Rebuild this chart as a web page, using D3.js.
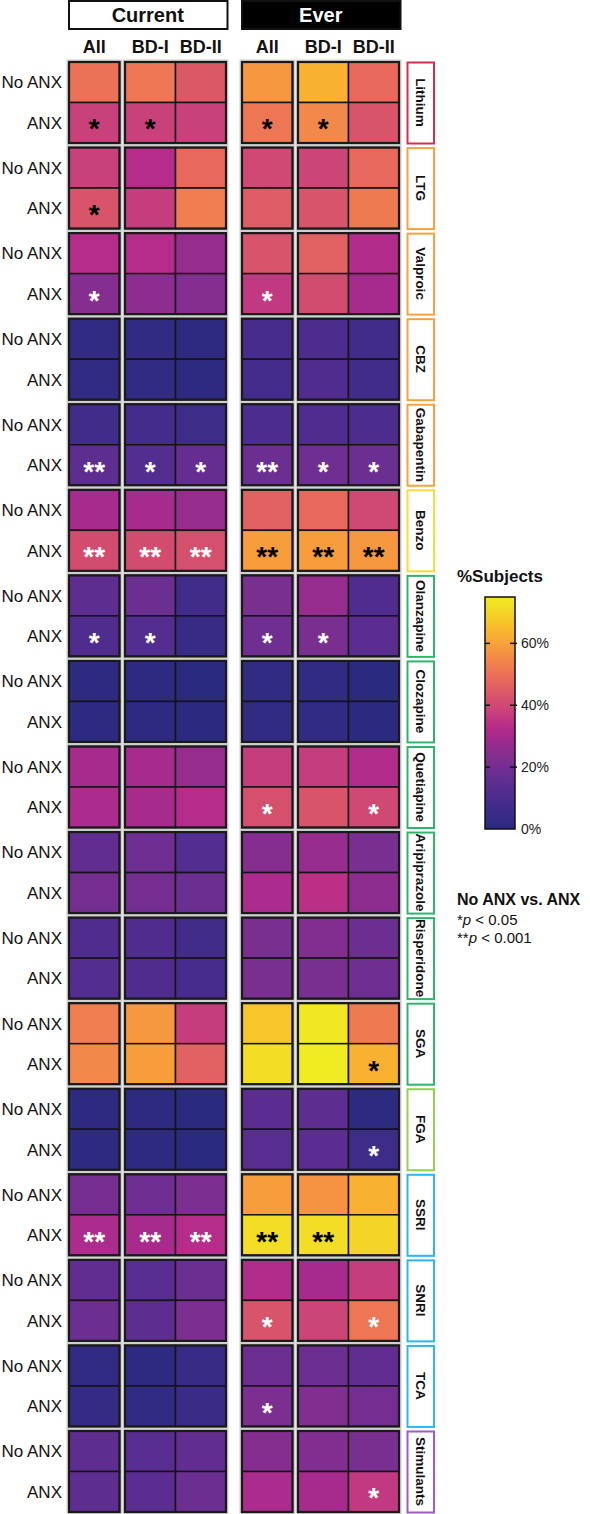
<!DOCTYPE html>
<html>
<head>
<meta charset="utf-8">
<script src="https://cdnjs.cloudflare.com/ajax/libs/d3/7.8.5/d3.min.js"></script>
<style>
  body { margin: 0; background: #fff; }
  svg text { font-family: "Liberation Sans", Arial, Helvetica, sans-serif; }
</style>
</head>
<body>
<div id="chart"></div>
<script>
// ---- data (% of subjects) ----
var drugs = ["Lithium", "LTG", "Valproic", "CBZ", "Gabapentin", "Benzo", "Olanzapine", "Clozapine",
             "Quetiapine", "Aripiprazole", "Risperidone", "SGA", "FGA", "SSRI", "SNRI", "TCA", "Stimulants"];
var drugClass = ["lithium", "anticonvulsant", "anticonvulsant", "anticonvulsant", "anticonvulsant", "benzo",
                 "sga", "sga", "sga", "sga", "sga", "sga", "fga", "antidep", "antidep", "antidep", "stimulant"];
var periods = ["Current", "Ever"];
var groups = ["All", "BD-I", "BD-II"];
var anxRows = ["No ANX", "ANX"];

// [All, BD-I, BD-II] per drug
var currentNoAnx = [[50,51,44],[38,33,48],[33,33,27],[2,2,1],[7,8,6],[30,30,27],[15,18,7],[1,1,0],
                    [30,30,27],[16,19,12],[11,11,7],[53,58,37],[1,1,0],[20,19,22],[16,13,18],[2,1,4],[15,13,16]];
var currentAnx   = [[38,38,38],[43,37,53],[24,25,24],[2,2,1],[15,12,17],[41,41,42],[11,12,4],[1,1,0.5],
                    [31,30,33],[20,20,18],[12,11,9],[55,59,46],[1,1,0],[31,30,33],[18,15,22],[3,2,5],[15,14,18]];
var everNoAnx    = [[58,63,48],[40,39,48],[43,46,32],[9,10,7],[10,11,10],[46,48,40],[21,27,11],[2,2,0],
                    [37,37,32],[24,27,21],[21,23,18],[67,74,52],[14,15,1],[59,57,63],[32,30,37],[18,18,16],[24,23,21]];
var everAnx      = [[51,55,43],[45,43,52],[36,41,30],[8,11,7],[18,19,18],[59,59,58],[19,21,14],[2,2,0.5],
                    [42,43,40],[31,34,25],[21,21,19],[72,75,63],[13,14,6],[72,72,70],[43,39,51],[22,23,20],[31,30,36]];

// significance No ANX vs ANX (marked on the ANX row)
var currentSig = [["*","*",""],["*","",""],["*","",""],["","",""],["**","*","*"],["**","**","**"],["*","*",""],["","",""],
                  ["","",""],["","",""],["","",""],["","",""],["","",""],["**","**","**"],["","",""],["","",""],["","",""]];
var everSig    = [["*","*",""],["","",""],["*","",""],["","",""],["**","*","*"],["**","**","**"],["*","*",""],["","",""],
                  ["*","","*"],["","",""],["","",""],["","","*"],["","","*"],["**","**",""],["*","","*"],["*","",""],["","","*"]];
// marks printed in black instead of white
var darkStars = ["Current|Lithium|All", "Current|Lithium|BD-I", "Current|LTG|All",
                 "Ever|Lithium|All", "Ever|Lithium|BD-I", "Ever|Benzo|All", "Ever|Benzo|BD-I", "Ever|Benzo|BD-II",
                 "Ever|SGA|BD-II", "Ever|SSRI|All", "Ever|SSRI|BD-I"];

var colorTicks = [0, 20, 40, 60];
var colorMax = 75;

// ---- style ----
var classColor = {
  lithium: "#d32f4f", anticonvulsant: "#f9a03f", benzo: "#f7dc3a", sga: "#2fb46b",
  fga: "#94cf50", antidep: "#2db7f0", stimulant: "#a05bbd"
};
var stopVals = [0, 8, 16, 22, 28, 33, 38, 43, 48, 53, 58, 63, 68, 75];
var stopCols = ["#2a2a7e","#442c8c","#622d91","#7c2f90","#9b2b8e","#b62c8a","#c9417a","#d8546a",
                "#e8695c","#f07e50","#f6983f","#f9b132","#f6cb28","#f0ec22"];

var W = 590, H = 1514;
var svg = d3.select("#chart").append("svg")
  .attr("width", W).attr("height", H);

var color = d3.scaleLinear().domain(stopVals).range(stopCols)
  .interpolate(d3.interpolateRgb).clamp(true);

var yBlock = d3.scaleBand().domain(drugs).range([62, 1512]).paddingInner(0.0533);
var yRow = d3.scaleBand().domain(anxRows).range([0, yBlock.bandwidth()]);
var xPeriod = d3.scaleBand().domain(periods).range([69, 399.5]).paddingInner(0.0896);
var xGroup = d3.scaleOrdinal().domain(groups).range([0, 56, 106.5]);
var cellW = 50.5;

var valueTable = { "Current": [currentNoAnx, currentAnx], "Ever": [everNoAnx, everAnx] };
var sigTable = { "Current": currentSig, "Ever": everSig };

// flatten into cells
var cells = [];
drugs.forEach(function(drug, i) {
  periods.forEach(function(p) {
    anxRows.forEach(function(r, ri) {
      groups.forEach(function(g, gi) {
        cells.push({
          drug: drug, period: p, row: r, group: g,
          value: valueTable[p][ri][i][gi],
          sig: ri === 1 ? sigTable[p][i][gi] : ""
        });
      });
    });
  });
});

// sub blocks: the "All" box and the BD-I/BD-II box
var blocks = [];
drugs.forEach(function(drug) {
  periods.forEach(function(p) {
    blocks.push({ drug: drug, x: xPeriod(p) + xGroup("All"), w: cellW });
    blocks.push({ drug: drug, x: xPeriod(p) + xGroup("BD-I"), w: xGroup("BD-II") - xGroup("BD-I") + cellW });
  });
});

var heat = svg.append("g").attr("class", "heat");

// light halo behind each box
heat.selectAll("rect.halo").data(blocks).enter().append("rect")
  .attr("class", "halo")
  .attr("x", function(d) { return d.x; })
  .attr("y", function(d) { return yBlock(d.drug); })
  .attr("width", function(d) { return d.w; })
  .attr("height", yBlock.bandwidth())
  .attr("fill", "none").attr("stroke", "#d0d0d0").attr("stroke-width", 5);

heat.selectAll("rect.cell").data(cells).enter().append("rect")
  .attr("class", "cell")
  .attr("x", function(d) { return xPeriod(d.period) + xGroup(d.group); })
  .attr("y", function(d) { return yBlock(d.drug) + yRow(d.row); })
  .attr("width", cellW)
  .attr("height", yRow.bandwidth())
  .attr("fill", function(d) { return color(d.value); })
  .attr("stroke", "#141414").attr("stroke-width", 1.5);

heat.selectAll("rect.outline").data(blocks).enter().append("rect")
  .attr("class", "outline")
  .attr("x", function(d) { return d.x; })
  .attr("y", function(d) { return yBlock(d.drug); })
  .attr("width", function(d) { return d.w; })
  .attr("height", yBlock.bandwidth())
  .attr("fill", "none").attr("stroke", "#1a1a1a").attr("stroke-width", 2.2);

// significance stars
var starSize = 28;
heat.selectAll("text.star").data(cells.filter(function(d) { return d.sig; })).enter().append("text")
  .attr("class", "star")
  .attr("x", function(d) { return xPeriod(d.period) + xGroup(d.group) + cellW / 2; })
  .attr("y", function(d) { return yBlock(d.drug) + yRow(d.row) + yRow.bandwidth() / 2 + starSize * 0.56; })
  .attr("text-anchor", "middle")
  .attr("font-size", starSize).attr("font-weight", "bold")
  .attr("fill", function(d) {
    return darkStars.indexOf(d.period + "|" + d.drug + "|" + d.group) >= 0 ? "#000" : "#fff";
  })
  .text(function(d) { return d.sig; });

// row labels (No ANX / ANX)
var rowLabels = [];
drugs.forEach(function(drug) { anxRows.forEach(function(r) { rowLabels.push({ drug: drug, row: r }); }); });
svg.append("g").selectAll("text").data(rowLabels).enter().append("text")
  .attr("x", 62)
  .attr("y", function(d) { return yBlock(d.drug) + yRow(d.row) + yRow.bandwidth() / 2; })
  .attr("dy", "0.36em")
  .attr("text-anchor", "end")
  .attr("font-size", 17).attr("fill", "#111")
  .text(function(d) { return d.row; });

// period header boxes
var head = svg.append("g");
head.selectAll("rect").data(periods).enter().append("rect")
  .attr("x", function(d) { return xPeriod(d); })
  .attr("y", 1)
  .attr("width", xPeriod.bandwidth() + 1)
  .attr("height", 28)
  .attr("fill", function(d) { return d === "Ever" ? "#000" : "#fff"; })
  .attr("stroke", "#111").attr("stroke-width", 2);
head.selectAll("text").data(periods).enter().append("text")
  .attr("x", function(d) { return xPeriod(d) + xPeriod.bandwidth() / 2; })
  .attr("y", 22)
  .attr("text-anchor", "middle")
  .attr("font-size", 20).attr("font-weight", "bold")
  .attr("fill", function(d) { return d === "Ever" ? "#fff" : "#111"; })
  .text(function(d) { return d; });

// column headers
var colHeads = [];
periods.forEach(function(p) { groups.forEach(function(g) { colHeads.push({ period: p, group: g }); }); });
svg.append("g").selectAll("text").data(colHeads).enter().append("text")
  .attr("x", function(d) { return xPeriod(d.period) + xGroup(d.group) + cellW / 2; })
  .attr("y", 53)
  .attr("text-anchor", "middle")
  .attr("font-size", 18).attr("font-weight", "bold").attr("fill", "#111")
  .text(function(d) { return d.group; });

// drug name boxes on the right
var lab = svg.append("g");
lab.selectAll("rect").data(drugs).enter().append("rect")
  .attr("x", 407.5)
  .attr("y", function(d) { return yBlock(d) + 0.5; })
  .attr("width", 26.5)
  .attr("height", yBlock.bandwidth())
  .attr("fill", "#fff")
  .attr("stroke", function(d, i) { return classColor[drugClass[i]]; })
  .attr("stroke-width", 2);
lab.selectAll("text").data(drugs).enter().append("text")
  .attr("transform", function(d) { return "translate(421," + (yBlock(d) + yBlock.bandwidth() / 2) + ") rotate(90)"; })
  .attr("dy", "0.36em")
  .attr("text-anchor", "middle")
  .attr("font-size", 13.5).attr("font-weight", "bold").attr("fill", "#111")
  .text(function(d) { return d; });

// colour bar legend
var cbX = 485, cbW = 30;
var cbY = d3.scaleLinear().domain([0, colorMax]).range([829, 597]);
var defs = svg.append("defs");
var grad = defs.append("linearGradient").attr("id", "cbgrad")
  .attr("x1", 0).attr("y1", 1).attr("x2", 0).attr("y2", 0);
grad.selectAll("stop").data(d3.range(0, colorMax + 0.01, 2.5)).enter().append("stop")
  .attr("offset", function(d) { return d / colorMax; })
  .attr("stop-color", function(d) { return color(d); });

svg.append("text")
  .attr("x", 457).attr("y", 582)
  .attr("font-size", 17).attr("font-weight", "bold").attr("fill", "#111")
  .text("%Subjects");

svg.append("rect")
  .attr("x", cbX).attr("y", cbY(colorMax))
  .attr("width", cbW).attr("height", cbY(0) - cbY(colorMax))
  .attr("fill", "url(#cbgrad)")
  .attr("stroke", "#111").attr("stroke-width", 1.5);

var cbAxis = svg.append("g")
  .attr("transform", "translate(" + (cbX + cbW) + ",0)")
  .call(d3.axisRight(cbY).tickValues(colorTicks).tickSize(0).tickPadding(6)
    .tickFormat(function(d) { return d + "%"; }));
cbAxis.select(".domain").remove();
cbAxis.selectAll("text").attr("font-size", 14).attr("fill", "#222")
  .attr("font-family", "'Liberation Sans', Arial, sans-serif");

// little tick dashes at both edges of the bar
var tickG = svg.append("g");
colorTicks.filter(function(t) { return t > 0; }).forEach(function(t) {
  tickG.append("line").attr("x1", cbX).attr("x2", cbX + 5)
    .attr("y1", cbY(t)).attr("y2", cbY(t)).attr("stroke", "#111").attr("stroke-width", 1.5);
  tickG.append("line").attr("x1", cbX + cbW - 5).attr("x2", cbX + cbW + 2)
    .attr("y1", cbY(t)).attr("y2", cbY(t)).attr("stroke", "#111").attr("stroke-width", 1.5);
});

// significance legend
svg.append("text")
  .attr("x", 457).attr("y", 905)
  .attr("font-size", 16).attr("font-weight", "bold").attr("fill", "#111")
  .text("No ANX vs. ANX");
var sigLines = [["*", " < 0.05"], ["**", " < 0.001"]];
svg.append("g").selectAll("text").data(sigLines).enter().append("text")
  .attr("x", 457)
  .attr("y", function(d, i) { return 925 + i * 18; })
  .attr("font-size", 15).attr("fill", "#111")
  .each(function(d) {
    var t = d3.select(this);
    t.append("tspan").text(d[0]);
    t.append("tspan").attr("font-style", "italic").text("p");
    t.append("tspan").text(d[1]);
  });
</script>
</body>
</html>
